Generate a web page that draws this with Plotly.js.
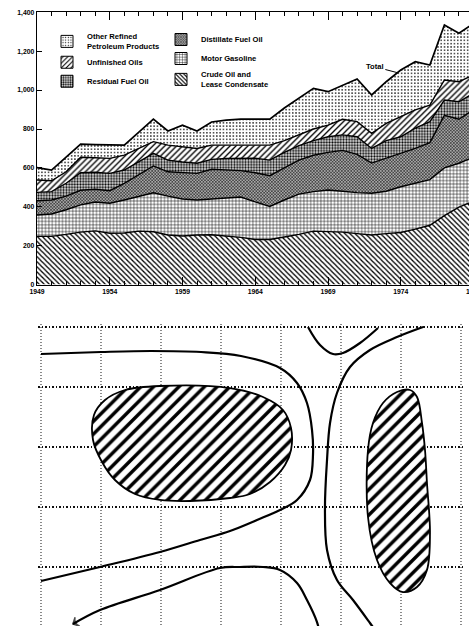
<!DOCTYPE html>
<html>
<head>
<meta charset="utf-8">
<script src="https://cdn.plot.ly/plotly-3.0.1.min.js"></script>
<style>
html,body{margin:0;padding:0;overflow:hidden;background:#fff;width:469px;height:626px;}
#chart{width:490px;height:660px;}
</style>
</head>
<body>
<div id="chart"></div>
<script>
// ---------- Top chart data (million barrels) ----------
var years = [1949,1950,1951,1952,1953,1954,1955,1956,1957,1958,1959,1960,1961,1962,1963,1964,1965,1966,1967,1968,1969,1970,1971,1972,1973,1974,1975,1976,1977,1978,1979];
var crudeOil     = [248,248,258,270,276,264,265,275,272,255,250,255,256,250,243,232,232,245,258,275,272,270,262,255,262,268,285,305,355,398,430];
var motorGasoline= [110,115,127,140,149,154,170,180,200,200,190,180,184,198,207,193,170,190,207,203,214,210,211,215,218,235,236,235,245,226,225];
var distillate   = [73,72,70,75,65,65,86,110,138,125,135,137,153,140,136,150,158,165,175,187,194,210,197,155,170,173,179,190,270,226,245];
var residual     = [43,43,66,90,88,89,68,65,65,60,55,52,51,61,63,75,80,80,75,75,80,80,90,75,90,84,105,108,79,90,84];
var unfinished   = [64,56,59,80,74,77,77,70,60,77,78,76,73,68,68,67,77,60,54,60,60,80,78,78,89,103,93,85,103,103,94];
var otherRefined = [63,55,75,67,68,69,51,84,116,73,112,90,119,129,134,134,134,168,189,209,172,176,219,197,214,240,248,206,283,249,265];

var seriesNames = {
  other: "Other Refined<br>Petroleum Products",
  unfinished: "Unfinished Oils",
  residual: "Residual Fuel Oil",
  distillate: "Distillate Fuel Oil",
  gasoline: "Motor Gasoline",
  crude: "Crude Oil and<br>Lease Condensate"
};
var yTickVals = [0,200,400,600,800,1000,1200,1400];
var xTickVals = [1949,1954,1959,1964,1969,1974,1979];

// ---------- Bottom diagram data (grid units) ----------
var curveAx = [0,1.0,1.833,2.667,3.333,3.983,4.267,4.433,4.517,4.533,4.483,4.267,3.983,3.6,3.15,2.65,1.983,0.983,0];
var curveAy = [0.45,0.417,0.4,0.417,0.483,0.683,0.933,1.267,1.717,2.133,2.55,2.883,3.05,3.217,3.4,3.55,3.75,4.0,4.233];
var curveBx = [4.633,4.6,4.433,4.267,3.983,3.7,3.317,2.983,1.983,0.983,0.533];
var curveBy = [5.05,4.917,4.55,4.267,4.05,4.0,4.0,4.017,4.383,4.717,4.95];
var curveCx = [4.45,4.65,4.867,5.033,5.317,5.617];
var curveCy = [0.0,0.3,0.45,0.433,0.267,0.017];
var curveDx = [6.367,5.933,5.483,5.15,4.933,4.817,4.767,4.733,4.767,4.933,5.2,5.483,5.567];
var curveDy = [0.0,0.167,0.383,0.667,1.1,1.6,2.217,3.0,3.717,4.217,4.55,4.933,5.05];
var blob1x = [0.867,0.883,1.067,1.4,1.983,3.15,3.7,4.033,4.167,4.167,4.067,3.817,3.483,3.15,2.483,1.983,1.567,1.233,1.017,0.867];
var blob1y = [1.883,1.467,1.217,1.05,0.983,1.017,1.167,1.383,1.683,2.05,2.3,2.583,2.783,2.85,2.9,2.883,2.783,2.55,2.25,1.883];
var blob2x = [6.15,6.267,6.35,6.4,6.433,6.483,6.433,6.267,6.033,5.817,5.6,5.45,5.45,5.533,5.7,5.933,6.15];
var blob2y = [1.05,1.167,1.6,2.05,2.6,3.433,4.05,4.333,4.417,4.267,3.883,3.167,2.05,1.6,1.267,1.083,1.05];

var FONT = "Liberation Sans, Arial, sans-serif";

var patterns = {
  crude:      {shape:"\\", size:3.6, solidity:0.36, fgcolor:"#000", bgcolor:"#fff"},
  gasoline:   {shape:"+",  size:3.4, solidity:0.27, fgcolor:"#000", bgcolor:"#fff"},
  distillate: {shape:"x",  size:2.2, solidity:0.45, fgcolor:"#222", bgcolor:"#a8a8a8"},
  residual:   {shape:".",  size:2.8, solidity:0.45, fgcolor:"#000", bgcolor:"#e8e8e8"},
  unfinished: {shape:"/",  size:4.2, solidity:0.32, fgcolor:"#000", bgcolor:"#fff"},
  other:      {shape:".",  size:3.3, solidity:0.18, fgcolor:"#111", bgcolor:"#fff"}
};

function stackTrace(y, key){
  return {x: years, y: y, type:"scatter", mode:"lines", stackgroup:"one",
    line:{color:"#000", width:1.4}, fillpattern: patterns[key], fillcolor:"#fff",
    showlegend:false, hoverinfo:"skip", xaxis:"x", yaxis:"y"};
}
var traces = [
  stackTrace(crudeOil, "crude"),
  stackTrace(motorGasoline, "gasoline"),
  stackTrace(distillate, "distillate"),
  stackTrace(residual, "residual"),
  stackTrace(unfinished, "unfinished"),
  stackTrace(otherRefined, "other")
];
traces[5].line.width = 1.7;
// legend swatches (bars placed outside visible range)
function legendBar(key, legend){
  return {x:[1940], y:[1], type:"bar", name: seriesNames[key], legend: legend,
    marker:{color:"#fff", line:{color:"#000", width:1}, pattern: patterns[key]},
    xaxis:"x", yaxis:"y", hoverinfo:"skip"};
}
traces.push(legendBar("other","legend"), legendBar("unfinished","legend"), legendBar("residual","legend"));
traces.push(legendBar("distillate","legend2"), legendBar("gasoline","legend2"), legendBar("crude","legend2"));

// bottom diagram
function curve(x, y){
  return {x:x, y:y, type:"scatter", mode:"lines", line:{color:"#000", width:2.2, shape:"spline", smoothing:1},
    showlegend:false, hoverinfo:"skip", xaxis:"x2", yaxis:"y2"};
}
function blob(x, y){
  return {x:x, y:y, type:"scatter", mode:"lines", fill:"toself", fillcolor:"#fff",
    fillpattern:{shape:"/", size:9, solidity:0.38, fgcolor:"#000", bgcolor:"#fff"},
    line:{color:"#000", width:1.8, shape:"spline", smoothing:1},
    showlegend:false, hoverinfo:"skip", xaxis:"x2", yaxis:"y2"};
}
traces.push(blob(blob1x, blob1y), blob(blob2x, blob2y));
traces.push(curve(curveAx, curveAy), curve(curveCx, curveCy), curve(curveDx, curveDy));
var cb = curve(curveBx, curveBy);
cb.mode = "lines+markers";
cb.marker = {symbol:"arrow-wide-open", angleref:"previous", color:"#000",
  size: curveBx.map(function(v,i){return i===curveBx.length-1 ? 7 : 0;}),
  line:{color:"#000", width:1.6}};
traces.push(cb);

var W = 490, H = 660;
var legendFont = {family:FONT, size:7.6, weight:"bold", color:"#000"};
var layout = {
  width: W, height: H,
  margin:{l:0, r:0, t:0, b:0},
  paper_bgcolor:"#fff", plot_bgcolor:"#fff",
  showlegend:true,
  font:{family:FONT, color:"#000"},
  xaxis:{domain:[37/W, 473.5/W], range:[1949,1979], anchor:"y",
    tickmode:"array", tickvals:xTickVals, ticks:"inside", ticklen:8, tickwidth:1, tickcolor:"#000",
    minor:{dtick:1, tick0:1949, ticks:"inside", ticklen:4, tickwidth:1, tickcolor:"#000", showgrid:false},
    showline:true, linecolor:"#000", linewidth:1.3, mirror:"ticks",
    showgrid:false, zeroline:false, automargin:false, fixedrange:true,
    tickfont:{family:FONT, size:6.8, weight:"bold", color:"#000"}},
  yaxis:{domain:[1-284.6/H, 1-12.3/H], range:[0,1400], anchor:"x",
    tickmode:"array", tickvals:yTickVals, tickformat:",", ticks:"inside", ticklen:5, tickwidth:1, tickcolor:"#000",
    showline:true, linecolor:"#000", linewidth:1.3, mirror:"ticks",
    showgrid:false, zeroline:false, automargin:false, fixedrange:true,
    tickfont:{family:FONT, size:6.8, weight:"bold", color:"#000"}},
  xaxis2:{domain:[38/W, 464/W], range:[-0.05,7.05], anchor:"y2",
    dtick:1, tick0:0, showticklabels:false, ticks:"", showgrid:true, gridcolor:"#8a8a8a",
    griddash:"1px,2px", gridwidth:1.3, zeroline:false, showline:false, fixedrange:true},
  yaxis2:{domain:[1-627/H, 1-324/H], range:[5.0,-0.05], anchor:"x2",
    dtick:1, tick0:0, showticklabels:false, ticks:"", showgrid:true, gridcolor:"#111",
    griddash:"1.5px,2px", gridwidth:1.5, zeroline:false, showline:false, fixedrange:true},
  legend:{x:47/W, xanchor:"left", y:1-25/H, yanchor:"top", bgcolor:"rgba(0,0,0,0)",
    font:legendFont, traceorder:"normal", itemwidth:30, tracegroupgap:0},
  legend2:{x:161/W, xanchor:"left", y:1-25/H, yanchor:"top", bgcolor:"rgba(0,0,0,0)",
    font:legendFont, traceorder:"normal", itemwidth:30, tracegroupgap:0},
  annotations:[{x:1973.8, y:1089, xref:"x", yref:"y", text:"Total", showarrow:true, arrowhead:0,
    arrowwidth:1, arrowcolor:"#000", ax:-23, ay:-6, font:{family:FONT, size:7.6, weight:"bold", color:"#000"}}]
};

Plotly.newPlot("chart", traces, layout, {staticPlot:true, displayModeBar:false});
</script>
</body>
</html>
